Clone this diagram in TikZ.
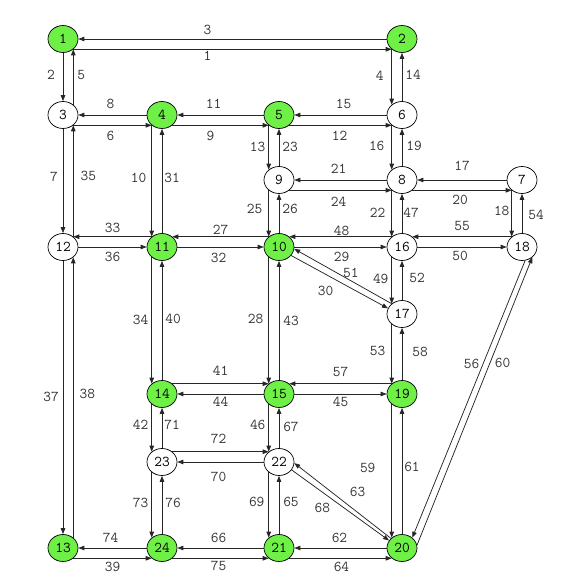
\documentclass[tikz,border=0pt]{standalone}
\usetikzlibrary{arrows.meta,shapes.geometric}
\definecolor{zonegreen}{RGB}{110,240,70}
\tikzset{
  nbase/.style={ellipse, draw, inner sep=0pt, minimum width=30pt, minimum height=27pt, line width=0.7pt},
  zone/.style={nbase, fill=zonegreen},
  junc/.style={nbase, fill=white},
  link/.style={-{Triangle[length=6pt,width=4.5pt]}, draw=black!85, line width=0.75pt},
  lbl/.style={text=black!80, inner sep=0pt}
}
\begin{document}
\begin{tikzpicture}[x=1pt, y=-1pt, font=\fontsize{15}{17}\selectfont\ttfamily, line join=round]
\useasboundingbox (0,0) rectangle (567,583);
% zones and junctions
\foreach \n/\x/\y/\k in {1/63/39/zone, 2/402/39/zone, 3/63/115/junc, 4/162/115/zone,
  5/279/115/zone, 6/402/115/junc, 7/522/180/junc, 8/402/180/junc, 9/279/180/junc,
  10/279/247/zone, 11/162/247/zone, 12/63/247/junc, 13/63/548/zone, 14/162/394/zone,
  15/279/394/zone, 16/402/247/junc, 17/402/314/junc, 18/522/247/junc, 19/402/394/zone,
  20/402/548/zone, 21/279/548/zone, 22/279/462/junc, 23/162/462/junc, 24/162/548/zone}
  \node[\k] (n\n) at (\x,\y) {\n};
% links: from/to/number/label shift
\foreach \s/\t/\l/\dx/\dy in {
  2/1/3/-25/-9, 1.-45/2.-135/1/-25/7,
  1/3/2/-12/-2, 3.45/1.-45/5/8/-2, 3/12/7/-9/-4, 12.45/3.-45/35/15/-5,
  12/13/37/-12/-1, 13.45/12.-45/38/14/-4,
  4/3/8/-2/-11, 3.-45/4.-135/6/-2/11, 5/4/11/-7/-11, 4.-45/5.-135/9/-10/11,
  6/5/15/3/-11, 5.-45/6.-135/12/-1/11,
  2.-135/6.135/4/-12/-1, 6/2/14/11/-2, 6.-135/8.135/16/-15/-2, 8/6/19/12/-2,
  8.-135/16.135/22/-14/-1, 16/8/47/9/-1, 16.-135/17.135/49/-11/-2, 17/16/52/15/-3,
  17.-135/19.135/53/-14/-3, 19/17/58/18/-2, 19.-135/20.135/59/-24/-3, 20/19/61/10/-4,
  5.-135/9.135/13/-11/-1, 9/5/23/11/-1, 9.-135/10.135/25/-14/-5, 10/9/26/11/-5,
  10.-135/15.135/28/-13/-2, 15/10/43/12/0, 15.-135/22.135/46/-11/-3, 22/15/67/12/-1,
  22.-135/21.135/69/-12/-3, 21/22/65/12/-3,
  4.-135/11.135/10/-13/-3, 11/4/31/10/-3, 11.-135/14.135/34/-11/-1, 14/11/40/11/-2,
  14.-135/23.135/42/-11/-3, 23/14/71/10/-3, 23.-135/24.135/73/-11/-2, 24/23/76/11/-2,
  7.-135/18.135/18/-10/-3, 18/7/54/14/1,
  8/9/21/-2/-11, 9.-45/8.-135/24/-2/12, 7/8/17/0/-14, 8.-45/7.-135/20/-2/10,
  11.135/12.45/33/0/-9, 12/11/36/0/10, 10.135/11.45/27/0/-7, 11/10/32/-2/11,
  16.135/10.45/48/1/-6, 10/16/29/1/10, 18.135/16.45/55/0/-11, 16/18/50/-2/9,
  14.45/15.135/41/0/-13, 15/14/44/0/8, 19.135/15.45/57/0/-12, 15/19/45/0/8,
  23.45/22.135/72/-2/-13, 22/23/70/-2/15,
  24/13/74/-2/-10, 13.-45/24.-135/39/0/9, 21/24/66/-2/-10, 24.-45/21.-135/75/-2/8,
  20/21/62/-1/-10, 21.-45/20.-135/64/1/9,
  10.-35/17.158/30/-14/9, 17.135/10.-7/51/8/-3,
  22.-32/20.150/68/-18/3, 20.139/22.-4/63/15/-9,
  18.-77/20.45/56/3/-35, 20.11/18.-45/60/28/-38}
  \draw[link] (n\s) -- node[lbl, shift={(\dx,\dy)}] (l\l) {\l} (n\t);
\end{tikzpicture}
\end{document}
